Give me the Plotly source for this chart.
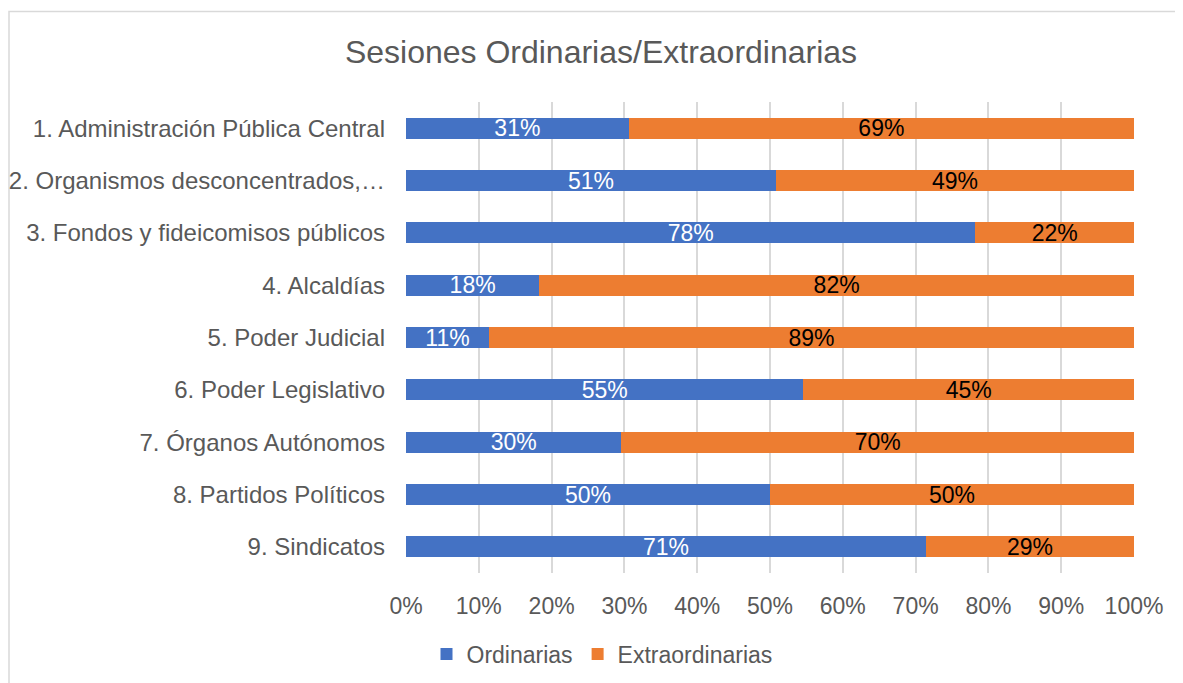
import plotly.graph_objects as go

categories = [
    "1. Administración Pública Central",
    "2. Organismos desconcentrados,…",
    "3. Fondos y fideicomisos públicos",
    "4. Alcaldías",
    "5. Poder Judicial",
    "6. Poder Legislativo",
    "7. Órganos Autónomos",
    "8. Partidos Políticos",
    "9. Sindicatos",
]
ordinarias = [30.6, 50.8, 78.2, 18.3, 11.4, 54.6, 29.6, 50.0, 71.4]
extraordinarias = [69.4, 49.2, 21.8, 81.7, 88.6, 45.4, 70.4, 50.0, 28.6]
x_ticks = [0, 10, 20, 30, 40, 50, 60, 70, 80, 90, 100]
x_tick_labels = ["0%", "10%", "20%", "30%", "40%", "50%", "60%", "70%", "80%", "90%", "100%"]

FONT = "Arial"
GRAY = "#595959"
GRID = "#D9D9D9"

fig = go.Figure()
fig.add_trace(go.Bar(
    y=categories, x=ordinarias, name="Ordinarias", orientation="h",
    marker=dict(color="#4472C4", line=dict(width=0)),
    texttemplate="%{x:.0f}%", textposition="inside", insidetextanchor="middle",
    textangle=0, constraintext="none",
    textfont=dict(color="white", size=23, family=FONT),
    hoverinfo="skip",
))
fig.add_trace(go.Bar(
    y=categories, x=extraordinarias, name="Extraordinarias", orientation="h",
    marker=dict(color="#ED7D31", line=dict(width=0)),
    texttemplate="%{x:.0f}%", textposition="inside", insidetextanchor="middle",
    textangle=0, constraintext="none",
    textfont=dict(color="black", size=23, family=FONT),
    hoverinfo="skip",
))

# page body has an 8px margin: work in figure coords = reference coords - 8
OFF = 8
W, H = 1183 - OFF, 683 - OFF
L, R, T, B = 406 - OFF, 49, 102 - OFF, 110
pw, ph = W - L - R, H - T - B

def fx(px):
    return (px - OFF - L) / pw

def fy(py):
    return 1 - (py - OFF - T) / ph

fig.update_layout(
    width=W, height=H,
    barmode="stack", bargap=0.6,
    margin=dict(l=L, r=R, t=T, b=B, pad=0, autoexpand=False),
    paper_bgcolor="white", plot_bgcolor="white",
    font=dict(family=FONT, color=GRAY, size=23),
    title=dict(text="Sesiones Ordinarias/Extraordinarias", xref="container",
               x=(601 - OFF) / W, xanchor="center", y=1 - (52 - OFF) / H, yanchor="middle",
               font=dict(size=32, color=GRAY, family=FONT)),
    showlegend=True,
    legend=dict(orientation="h", x=fx(602), xanchor="center",
                yref="container", y=1 - (654 - OFF) / H, yanchor="middle",
                font=dict(size=23, color=GRAY, family=FONT),
                traceorder="normal", itemclick=False),
    xaxis=dict(range=[0, 100], tickmode="array", tickvals=x_ticks, ticktext=x_tick_labels,
               showgrid=True, gridcolor=GRID, gridwidth=1.5,
               zeroline=False, showline=False, ticks="",
               ticklabelstandoff=17, automargin=False,
               tickfont=dict(size=23, color=GRAY, family=FONT),
               fixedrange=True),
    yaxis=dict(autorange="reversed", showgrid=False, zeroline=False,
               showline=False, ticks="", ticklabelstandoff=20, automargin=False,
               tickfont=dict(size=24, color=GRAY, family=FONT),
               fixedrange=True),
    shapes=[dict(type="rect", xref="paper", yref="paper",
                 x0=fx(9), x1=fx(1200),
                 y0=fy(700), y1=fy(11.5),
                 line=dict(color=GRID, width=1.5), fillcolor="rgba(0,0,0,0)",
                 layer="below")],
)

fig.write_html("out.html")
